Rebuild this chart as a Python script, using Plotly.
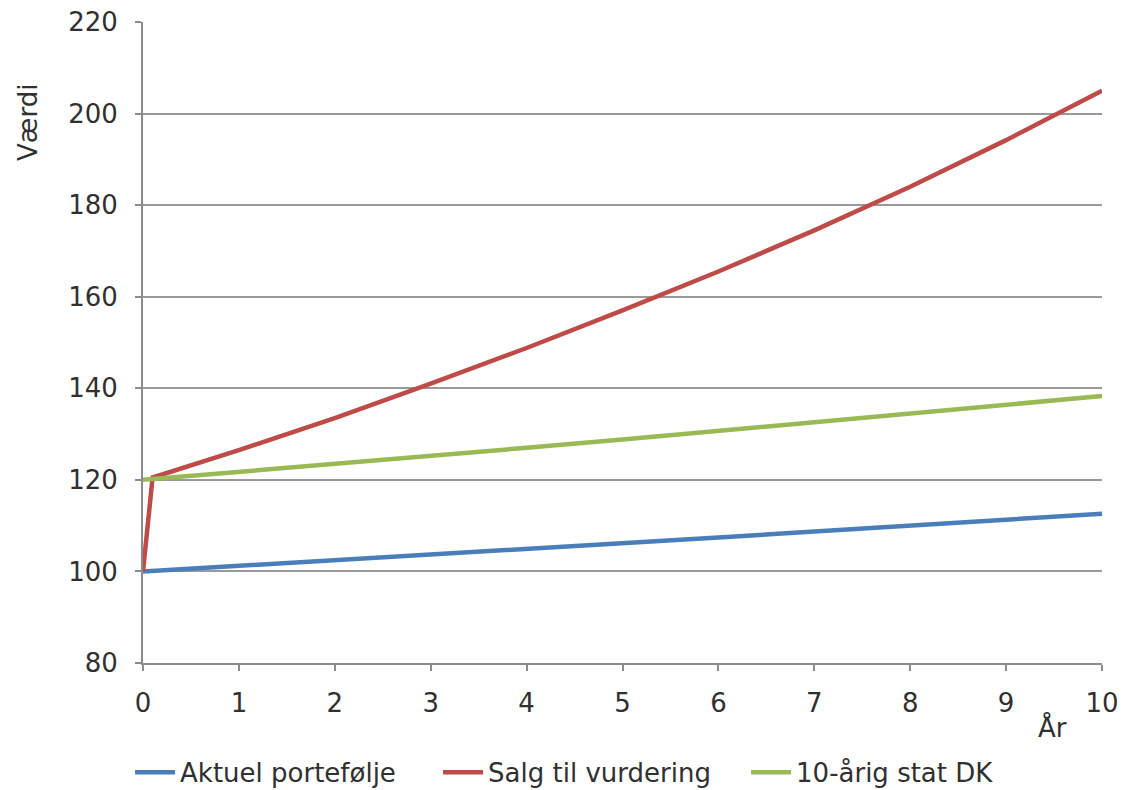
import plotly.graph_objects as go

# Years and index values (start = 100)
years_blue = [0, 1, 2, 3, 4, 5, 6, 7, 8, 9, 10]
aktuel_portefolje = [100, 101.2, 102.4, 103.6, 104.9, 106.1, 107.4, 108.7, 110.0, 111.3, 112.6]

years_red = [0, 0.1, 1, 2, 3, 4, 5, 6, 7, 8, 9, 10]
salg_til_vurdering = [100, 120.5, 126.5, 133.5, 141.0, 148.8, 157.0, 165.5, 174.5, 184.0, 194.2, 205.0]

years_green = [0, 1, 2, 3, 4, 5, 6, 7, 8, 9, 10]
stat_dk_10aarig = [120, 121.7, 123.5, 125.2, 127.0, 128.8, 130.7, 132.5, 134.4, 136.3, 138.3]

series_names = ["Aktuel portefølje", "Salg til vurdering", "10-årig stat DK"]
colors = ["#4a7ebb", "#be4b48", "#98b954"]

x_ticks = list(range(0, 11))
y_ticks = list(range(80, 221, 20))

FONT = "DejaVu Sans, Verdana, sans-serif"
TXT = "#303030"
AXIS = "#8c8c8c"
GRID = "#9a9a9a"
FS = 26

fig = go.Figure()
for xs, ys, name, col in [
    (years_blue, aktuel_portefolje, series_names[0], colors[0]),
    (years_red, salg_til_vurdering, series_names[1], colors[1]),
    (years_green, stat_dk_10aarig, series_names[2], colors[2]),
]:
    fig.add_trace(go.Scatter(x=xs, y=ys, mode="lines", name=name,
                             line=dict(color=col, width=4.5)))

fig.update_layout(
    width=1124, height=790,
    margin=dict(l=143, r=22, t=22, b=127, autoexpand=False),
    paper_bgcolor="white", plot_bgcolor="white",
    font=dict(family=FONT, size=FS, color=TXT),
    showlegend=True,
    legend=dict(orientation="h", x=-0.0135, xanchor="left", y=-0.134, yanchor="top",
                font=dict(size=FS, color=TXT), itemwidth=40,
                entrywidth=253, entrywidthmode="pixels", tracegroupgap=0),
    xaxis=dict(range=[0, 10], tickvals=x_ticks, showgrid=False, zeroline=False,
               showline=True, linecolor=AXIS, linewidth=2, automargin=False,
               ticks="outside", ticklen=6, tickwidth=2, tickcolor=AXIS,
               ticklabelstandoff=10, tickfont=dict(size=FS, color=TXT)),
    yaxis=dict(range=[80, 220], tickvals=y_ticks, showgrid=True, gridcolor=GRID,
               gridwidth=2, zeroline=False, showline=True, linecolor=AXIS, linewidth=2,
               automargin=False,
               ticks="outside", ticklen=6, tickwidth=2, tickcolor=AXIS,
               ticklabelstandoff=12, tickfont=dict(size=FS, color=TXT)),
    annotations=[
        dict(text="Værdi", xref="paper", yref="paper", x=-0.12, y=0.844,
             xanchor="center", yanchor="middle", textangle=-90, showarrow=False,
             font=dict(size=FS, color=TXT)),
        dict(text="År", xref="paper", yref="paper", x=0.948, y=-0.1014,
             xanchor="center", yanchor="middle", showarrow=False,
             font=dict(size=FS, color=TXT)),
    ],
)

fig.write_html("out.html")
